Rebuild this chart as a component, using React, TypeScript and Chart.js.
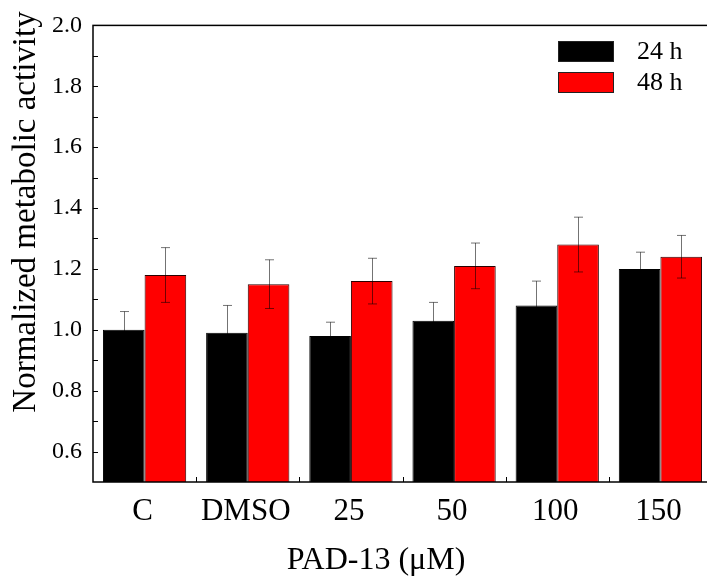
import React, { useEffect, useRef } from "react";
import { Chart, registerables } from "chart.js";

Chart.register(...registerables);

const CATEGORIES = ["C", "DMSO", "25", "50", "100", "150"];
const SERIES_LABELS = ["24 h", "48 h"];
const VALUES_24H = [1.0, 0.99, 0.98, 1.03, 1.08, 1.2];
const ERRORS_24H = [0.06, 0.09, 0.045, 0.06, 0.08, 0.055];
const VALUES_48H = [1.18, 1.15, 1.16, 1.21, 1.28, 1.24];
const ERRORS_48H = [0.09, 0.08, 0.075, 0.075, 0.09, 0.07];
const Y_TICKS = [0.6, 0.8, 1.0, 1.2, 1.4, 1.6, 1.8, 2.0];
const Y_MIN = 0.5;
const Y_MAX = 2.0;
const X_TITLE = "PAD-13 (μM)";
const Y_TITLE = "Normalized metabolic activity";

const FONT = '"Liberation Serif", "Times New Roman", serif';
const ERRORS = [ERRORS_24H, ERRORS_48H];

const overlay = {
  id: "overlay",
  afterDatasetsDraw(chart: any) {
    const ctx = chart.ctx;
    const y = chart.scales.y;
    ctx.save();
    chart.data.datasets.forEach((ds: any, di: number) => {
      const meta = chart.getDatasetMeta(di);
      const errs = ERRORS[di];
      meta.data.forEach((bar: any, i: number) => {
        const v = ds.data[i];
        const e = errs[i];
        const x = Math.round(bar.x) + 0.5;
        const yt = y.getPixelForValue(v + e);
        const yb = y.getPixelForValue(v - e);
        ctx.strokeStyle = "rgba(0,0,0,0.55)";
        ctx.lineWidth = 1;
        ctx.beginPath();
        ctx.moveTo(x, yt);
        ctx.lineTo(x, yb);
        ctx.moveTo(x - 4.5, yt);
        ctx.lineTo(x + 4.5, yt);
        ctx.moveTo(x - 4.5, yb);
        ctx.lineTo(x + 4.5, yb);
        ctx.stroke();
      });
    });
    ctx.restore();
  },
  afterDraw(chart: any) {
    const ctx = chart.ctx;
    const a = chart.chartArea;
    const xs = chart.scales.x;
    const ys = chart.scales.y;
    ctx.save();
    ctx.strokeStyle = "#000";
    ctx.lineWidth = 1.5;
    ctx.strokeRect(a.left, a.top, a.right - a.left, a.bottom - a.top);
    ctx.lineWidth = 1;
    ctx.beginPath();
    for (let v = Y_MIN + 0.1; v <= Y_MAX + 1e-6; v += 0.1) {
      const py = Math.round(ys.getPixelForValue(v)) + 0.5;
      ctx.moveTo(a.left, py);
      ctx.lineTo(a.left + 5, py);
    }
    for (let i = 0; i < CATEGORIES.length - 1; i++) {
      const px = Math.round((xs.getPixelForValue(i) + xs.getPixelForValue(i + 1)) / 2) + 0.5;
      ctx.moveTo(px, a.bottom);
      ctx.lineTo(px, a.bottom - 5);
    }
    ctx.stroke();

    // axis titles
    ctx.fillStyle = "#000";
    ctx.textAlign = "center";
    ctx.textBaseline = "middle";
    ctx.font = `32px ${FONT}`;
    ctx.fillText(X_TITLE, 376, 561);
    ctx.save();
    ctx.translate(26, 212);
    ctx.rotate(-Math.PI / 2);
    ctx.font = `33px ${FONT}`;
    ctx.fillText(Y_TITLE, 0, 0);
    ctx.restore();

    // legend
    const colors = ["#000000", "#ff0000"];
    const boxL = 558;
    const boxW = 56;
    const boxH = 21;
    const tops = [41, 72];
    ctx.font = `26px ${FONT}`;
    ctx.textBaseline = "middle";
    ctx.textAlign = "left";
    SERIES_LABELS.forEach((lab, i) => {
      ctx.fillStyle = colors[i];
      ctx.fillRect(boxL, tops[i], boxW, boxH);
      ctx.strokeStyle = "#222";
      ctx.lineWidth = 1;
      ctx.strokeRect(boxL + 0.5, tops[i] + 0.5, boxW - 1, boxH - 1);
      ctx.fillStyle = "#000";
      ctx.fillText(lab, 637, tops[i] + boxH / 2 + 1);
    });
    ctx.restore();
  },
};

export default function App() {
  const ref = useRef<HTMLCanvasElement>(null);
  useEffect(() => {
    if (!ref.current) return;
    const chart = new Chart(ref.current, {
      type: "bar",
      data: {
        labels: CATEGORIES,
        datasets: [
          {
            label: SERIES_LABELS[0],
            data: VALUES_24H,
            backgroundColor: "#000000",
            borderColor: "#000000",
            borderWidth: 1,
          },
          {
            label: SERIES_LABELS[1],
            data: VALUES_48H,
            backgroundColor: "#ff0000",
            borderColor: "#2a0000",
            borderWidth: 1,
          },
        ],
      },
      options: {
        responsive: false,
        animation: false,
        devicePixelRatio: 1,
        categoryPercentage: 0.807,
        barPercentage: 1.0,
        layout: { padding: { top: 25, right: 28, left: 0, bottom: 0 } },
        plugins: { legend: { display: false }, tooltip: { enabled: false } },
        scales: {
          x: {
            grid: { display: false, drawTicks: false },
            border: { display: false },
            ticks: {
              color: "#000",
              font: { family: FONT, size: 31 },
              padding: 11,
              maxRotation: 0,
              autoSkip: false,
              labelOffset: -2,
            },
            afterFit: (s: any) => {
              s.height = 99;
            },
          },
          y: {
            min: Y_MIN,
            max: Y_MAX,
            grid: { display: false, drawTicks: false },
            border: { display: false },
            afterBuildTicks: (s: any) => {
              s.ticks = Y_TICKS.map((v) => ({ value: v }));
            },
            ticks: {
              color: "#000",
              font: { family: FONT, size: 24 },
              padding: 11,
              callback: (v: any) => Number(v).toFixed(1),
            },
            afterFit: (s: any) => {
              s.width = 93;
            },
          },
        },
      } as any,
      plugins: [overlay],
    });
    return () => chart.destroy();
  }, []);
  return (
    <div
      style={{
        position: "fixed",
        left: 0,
        top: 0,
        width: 707,
        height: 581,
        overflow: "hidden",
        background: "#fff",
      }}
    >
      <canvas
        ref={ref}
        width={740}
        height={581}
        style={{ display: "block", width: 740, height: 581 }}
      />
    </div>
  );
}
